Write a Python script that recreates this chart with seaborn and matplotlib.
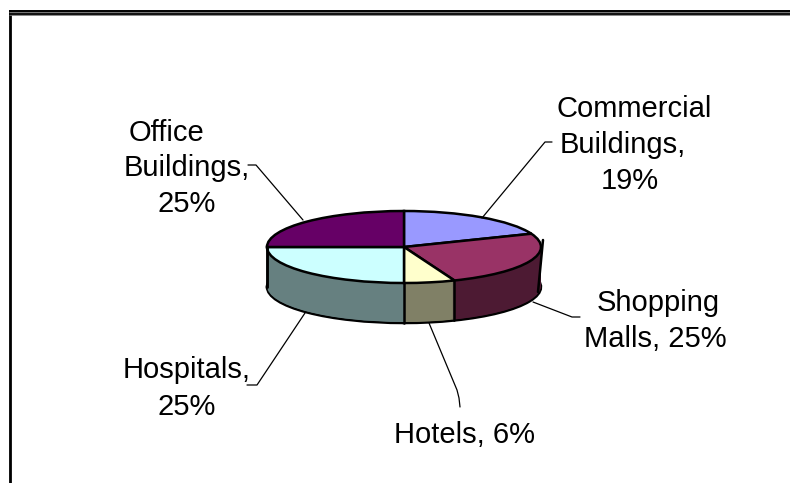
# ==================================================
# Building types - 3D looking pie chart
# ==================================================

import matplotlib
matplotlib.use("Agg")
import matplotlib.pyplot as plt
import numpy as np
import seaborn as sns

# ==================================================
# DATA
# ==================================================

categories = ["Commercial Buildings", "Shopping Malls", "Hotels", "Hospitals", "Office Buildings"]
values = [19, 25, 6, 25, 25]
top_colors = ["#9999FF", "#993366", "#FFFFCC", "#CCFFFF", "#660066"]

# label lines, one text per line
label_lines = ["Commercial", "Buildings,", "19%",
               "Shopping", "Malls, 25%",
               "Hotels, 6%",
               "Hospitals,", "25%",
               "Office", "Buildings,", "25%"]

# ==================================================
# THEME
# ==================================================

sns.set_theme(style="white")
plt.rcParams["font.family"] = ["Liberation Sans", "DejaVu Sans"]

W, H = 790, 483
cx, cy = 404, 247      # centre of the top ellipse, pixels
rx, ry = 137, 36       # ellipse radii, pixels
depth = 40             # height of the wall, pixels

fig = plt.figure(figsize=(W / 100, H / 100), dpi=100, facecolor="white")

# pie axes: one data unit is rx pixels across and ry pixels up
ax = fig.add_axes([0, 0, 1, 1])

wall_colors = [tuple(c * 0.5 for c in matplotlib.colors.to_rgb(t)) for t in top_colors]
pie_args = dict(startangle=90, counterclock=False, radius=1)

# wall: the same pie stacked downwards, one pixel per layer
for step in range(depth, 0, -1):
    edge = dict(edgecolor="black", linewidth=1.8) if step == depth else dict(linewidth=0)
    ax.pie(values, colors=wall_colors, center=(0, -step / ry), wedgeprops=edge, **pie_args)

ax.pie(values, colors=top_colors, center=(0, 0),
       wedgeprops=dict(edgecolor="black", linewidth=1.8), **pie_args)

# upright edges on the front of the pie
edge_angles = np.cumsum(values) / np.sum(values) * 2 * np.pi
for a in edge_angles:
    if np.cos(a) < 0:
        ax.plot([np.sin(a)] * 2, [np.cos(a), np.cos(a) - depth / ry], color="black", lw=1.8)
ax.plot([-1, -1], [0, -depth / ry], color="black", lw=1.8)

ax.set_aspect("auto")
ax.set_xlim(-cx / rx, (W - cx) / rx)
ax.set_ylim((cy - H) / ry, cy / ry)
ax.axis("off")

# ==================================================
# OVERLAY IN PIXELS: FRAME, LEADERS, LABELS
# ==================================================

over = fig.add_axes([0, 0, 1, 1], facecolor="none")
over.set_xlim(0, W)
over.set_ylim(H, 0)
over.axis("off")

# right side of the wall leans in a little
over.plot([543, 538], [240, 292], color="black", lw=1.8)

# frame
over.plot([8.5, 8.5], [10, H], color="#cccccc", lw=0.7)
over.plot([10, 10], [11, H], color="black", lw=2.0)
over.plot([9, W], [12.5, 12.5], color="#777777", lw=3.4, solid_capstyle="butt")
over.plot([9, W], [11, 11], color="black", lw=1.4, solid_capstyle="butt")
over.plot([9, W], [14, 14], color="black", lw=1.2, solid_capstyle="butt")

# leader lines
leaders = [
    [(482, 218), (545, 142), (552, 142)],
    [(533, 302), (572, 317), (580, 317)],
    [(429, 323), (457, 390), (459, 398), (460, 407)],
    [(305, 313), (257, 385), (247, 385)],
    [(303, 220), (256, 165), (248, 165)],
]
for pts in leaders:
    xs, ys = zip(*pts)
    over.plot(xs, ys, color="black", lw=0.9)

label_pos = [(634, 117), (623, 153), (630, 189),
             (658, 311), (655, 347),
             (465, 443),
             (187, 378), (187, 415),
             (167, 141), (187, 176), (187, 212)]
for line, (x, y) in zip(label_lines, label_pos):
    over.text(x, y, line, ha="center", va="baseline", fontsize=21, color="black")

fig.savefig("out.png", dpi=100)
